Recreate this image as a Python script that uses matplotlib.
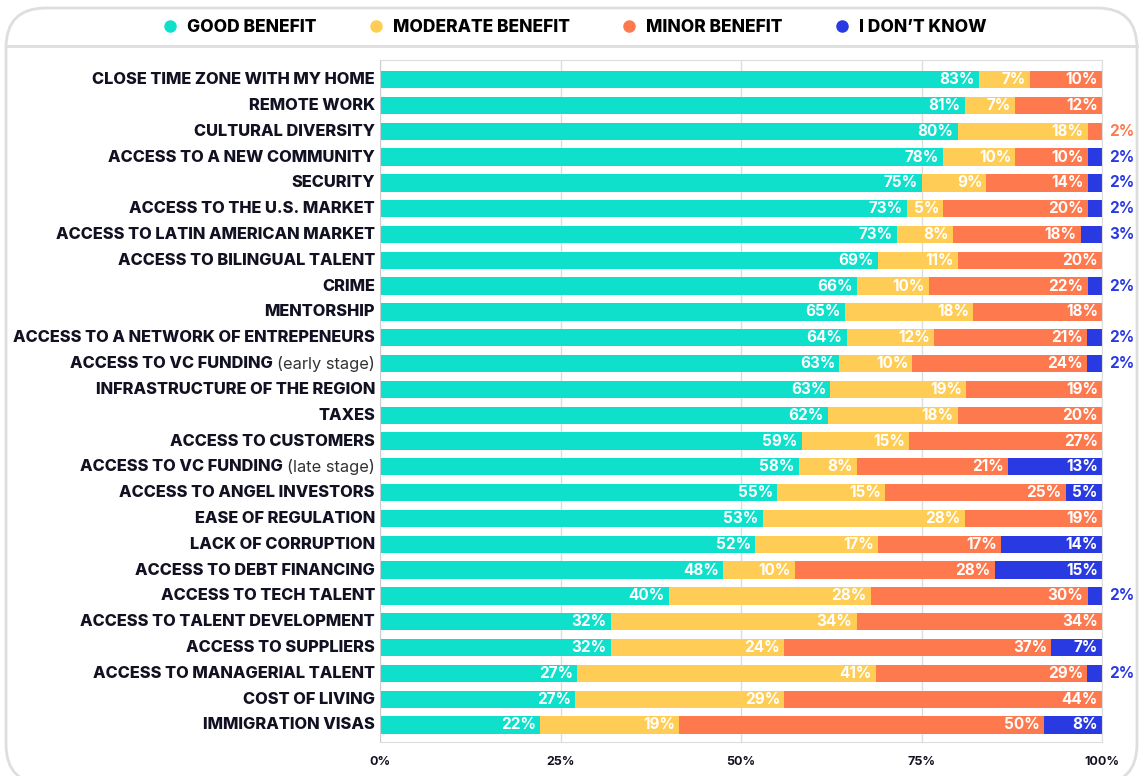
import numpy as np
import matplotlib.pyplot as plt
from matplotlib.lines import Line2D
from matplotlib.patches import FancyBboxPatch

plt.rcParams['font.family'] = ['Inter', 'DejaVu Sans']

categories = ["CLOSE TIME ZONE WITH MY HOME", "REMOTE WORK", "CULTURAL DIVERSITY",
              "ACCESS TO A NEW COMMUNITY", "SECURITY", "ACCESS TO THE U.S. MARKET",
              "ACCESS TO LATIN AMERICAN MARKET", "ACCESS TO BILINGUAL TALENT", "CRIME",
              "MENTORSHIP", "ACCESS TO A NETWORK OF ENTREPENEURS", "ACCESS TO VC FUNDING",
              "INFRASTRUCTURE OF THE REGION", "TAXES", "ACCESS TO CUSTOMERS",
              "ACCESS TO VC FUNDING", "ACCESS TO ANGEL INVESTORS", "EASE OF REGULATION",
              "LACK OF CORRUPTION", "ACCESS TO DEBT FINANCING", "ACCESS TO TECH TALENT",
              "ACCESS TO TALENT DEVELOPMENT", "ACCESS TO SUPPLIERS",
              "ACCESS TO MANAGERIAL TALENT", "COST OF LIVING", "IMMIGRATION VISAS"]
notes = [""] * 26
notes[11] = "(early stage)"
notes[15] = "(late stage)"

good      = [83, 81, 80, 78, 75, 73, 73, 69, 66, 65, 64, 63, 63, 62, 59, 58, 55, 53, 52, 48, 40, 32, 32, 27, 27, 22]
moderate  = [7, 7, 18, 10, 9, 5, 8, 11, 10, 18, 12, 10, 19, 18, 15, 8, 15, 28, 17, 10, 28, 34, 24, 41, 29, 19]
minor     = [10, 12, 2, 10, 14, 20, 18, 20, 22, 18, 21, 24, 19, 20, 27, 21, 25, 19, 17, 28, 30, 34, 37, 29, 44, 50]
dont_know = [0, 0, 0, 2, 2, 2, 3, 0, 2, 0, 2, 2, 0, 0, 0, 13, 5, 0, 14, 15, 2, 0, 7, 2, 0, 8]

series_names = ["GOOD BENEFIT", "MODERATE BENEFIT", "MINOR BENEFIT", "I DON\u2019T KNOW"]
colors = ["#0fe0cb", "#ffcd55", "#ff794e", "#2a3ae3"]
ticks = [0, 25, 50, 75, 100]

fig = plt.figure(figsize=(11.39, 7.76), dpi=100)

# outer rounded card + header line
card = FancyBboxPatch((6 / 1139, -8 / 776), 1131 / 1139, 776 / 776,
                      boxstyle="round,pad=0,rounding_size=0.035",
                      transform=fig.transFigure, facecolor="white",
                      edgecolor="#dedede", lw=2, zorder=-5, mutation_aspect=1139 / 776)
fig.patches.append(card)
fig.add_artist(Line2D([6 / 1139, 1137 / 1139], [1 - 46 / 776] * 2, color="#dedede", lw=2,
                      transform=fig.transFigure, zorder=-4))

ax = fig.add_axes([380 / 1139, 34 / 776, 722 / 1139, 682 / 776])
ax.set_facecolor("none")

data = np.array([good, moderate, minor, dont_know], dtype=float)
widths = data / data.sum(axis=0) * 100
y = np.arange(len(categories))

left = np.zeros(len(categories))
for k in range(4):
    ax.barh(y, widths[k], left=left, height=0.67, color=colors[k], zorder=2)
    for i in range(len(categories)):
        v = data[k, i]
        if v == 0:
            continue
        if v <= 3:
            ax.annotate(f"{int(v)}%", xy=(100, i), xytext=(5, 0), textcoords="offset points",
                        ha="left", va="center", fontsize=11, fontweight="bold",
                        color=colors[k], annotation_clip=False)
        else:
            ax.annotate(f"{int(v)}%", xy=(left[i] + widths[k, i], i), xytext=(-3, 0),
                        textcoords="offset points", ha="right", va="center",
                        fontsize=11, fontweight="bold", color="white", zorder=3)
    left += widths[k]

ax.set_xlim(0, 100)
ax.set_ylim(len(categories) - 0.34, -0.76)
ax.set_xticks(ticks)
ax.set_xticklabels([f"{t}%" for t in ticks], fontsize=9, fontweight="bold", color="#111122")
ax.tick_params(axis="x", length=0, pad=10)
ax.set_yticks([])
ax.xaxis.grid(True, color="#dddddd", lw=1)
ax.set_axisbelow(True)
for s in ax.spines.values():
    s.set_color("#dddddd")
ax.spines["left"].set_color("#cccccc")

tr = ax.get_yaxis_transform()
for i, (cat, note) in enumerate(zip(categories, notes)):
    if note:
        t = ax.text(-0.007, i, note, transform=tr, ha="right", va="center",
                    fontsize=11.8, color="#333333")
        ax.annotate(cat, xy=(0, 0.5), xycoords=t, xytext=(-3, 0),
                    textcoords="offset points", ha="right", va="center",
                    fontsize=11.8, fontweight="heavy", color="#111122")
    else:
        ax.text(-0.007, i, cat, transform=tr, ha="right", va="center",
                fontsize=11.8, fontweight="heavy", color="#111122")

handles = [Line2D([], [], marker="o", ls="", color=c, markersize=8) for c in colors]
fig.legend(handles, series_names, loc="center", bbox_to_anchor=(0.5, 1 - 28 / 776),
           ncol=4, frameon=False, handletextpad=0.0, columnspacing=2.4,
           prop={"weight": "heavy", "size": 12.5})

fig.savefig("out.png", dpi=100)
